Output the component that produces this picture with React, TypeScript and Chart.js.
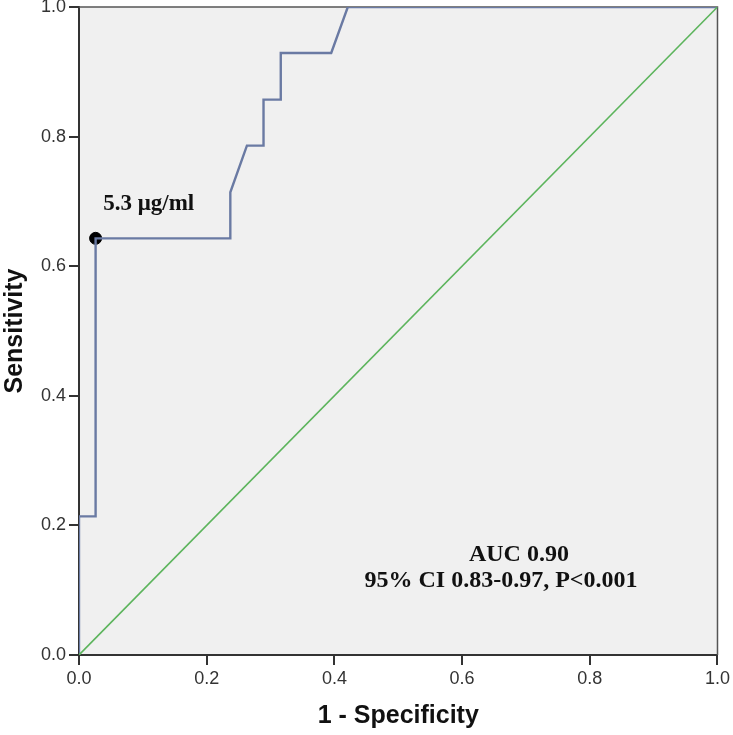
import React, { useEffect, useRef } from "react";
import { Chart, registerables } from "chart.js";

Chart.register(...registerables);

// ROC curve (1 - specificity, sensitivity)
const rocFpr = [0, 0, 0.026, 0.026, 0.237, 0.237, 0.263, 0.289, 0.289, 0.316, 0.316, 0.395, 0.421, 1];
const rocSens = [0, 0.214, 0.214, 0.643, 0.643, 0.714, 0.786, 0.786, 0.857, 0.857, 0.929, 0.929, 1, 1];
const refLine = [0, 1];
const cutoffPoint = { fpr: 0.026, sens: 0.643, label: "5.3 μg/ml" };
const aucLines = ["AUC 0.90", "95% CI 0.83-0.97, P<0.001"];
const tickValues = [0, 0.2, 0.4, 0.6, 0.8, 1.0];

const annotationPlugin = {
  id: "annot",
  beforeDatasetsDraw(chart: any) {
    const { ctx, chartArea } = chart;
    ctx.save();
    ctx.strokeStyle = "#555";
    ctx.lineWidth = 1.5;
    ctx.beginPath();
    ctx.moveTo(chartArea.left, chartArea.top);
    ctx.lineTo(chartArea.right, chartArea.top);
    ctx.lineTo(chartArea.right, chartArea.bottom);
    ctx.stroke();
    ctx.restore();
  },
  afterDatasetsDraw(chart: any) {
    const { ctx, scales } = chart;
    const x = scales.x;
    const y = scales.y;
    ctx.save();
    ctx.fillStyle = "#111";
    ctx.font = "bold 23px 'Liberation Serif', 'Times New Roman', serif";
    ctx.textBaseline = "alphabetic";
    ctx.textAlign = "left";
    ctx.fillText(cutoffPoint.label, x.getPixelForValue(0.038), y.getPixelForValue(0.686));
    ctx.font = "bold 24px 'Liberation Serif', 'Times New Roman', serif";
    ctx.textAlign = "center";
    ctx.fillText(aucLines[0], x.getPixelForValue(0.689), y.getPixelForValue(0.145));
    ctx.fillText(aucLines[1], x.getPixelForValue(0.661), y.getPixelForValue(0.105));
    ctx.restore();
  },
};

const bgPlugin = {
  id: "bg",
  beforeDraw(chart: any) {
    const { ctx, chartArea } = chart;
    ctx.save();
    ctx.fillStyle = "#ffffff";
    ctx.fillRect(0, 0, chart.width, chart.height);
    ctx.fillStyle = "#f0f0f0";
    ctx.fillRect(chartArea.left, chartArea.top, chartArea.right - chartArea.left, chartArea.bottom - chartArea.top);
    ctx.restore();
  },
};

export default function App() {
  const ref = useRef<HTMLCanvasElement | null>(null);
  useEffect(() => {
    if (!ref.current) return;
    const tickFont = { family: "Arial, 'Liberation Sans', sans-serif", size: 18 };
    const titleFont = { family: "Arial, 'Liberation Sans', sans-serif", size: 25, weight: "bold" as const };
    const chart = new Chart(ref.current, {
      type: "scatter",
      data: {
        datasets: [
          {
            data: refLine.map((v) => ({ x: v, y: v })),
            showLine: true,
            borderColor: "#5cb45c",
            borderWidth: 1.6,
            pointRadius: 0,
          },
          {
            data: rocFpr.map((v, i) => ({ x: v, y: rocSens[i] })),
            showLine: true,
            borderColor: "#6a7aa3",
            borderWidth: 2.4,
            pointRadius: 0,
          },
          {
            data: [{ x: cutoffPoint.fpr, y: cutoffPoint.sens }],
            pointRadius: 6,
            pointBackgroundColor: "#000",
            pointBorderColor: "#000",
          },
        ],
      },
      options: {
        animation: false,
        responsive: false,
        maintainAspectRatio: false,
        layout: { padding: { top: 0, right: 15, left: 0, bottom: 0 } },
        plugins: { legend: { display: false }, tooltip: { enabled: false } },
        scales: {
          x: {
            type: "linear",
            min: 0,
            max: 1,
            afterBuildTicks: (s: any) => {
              s.ticks = tickValues.map((v) => ({ value: v }));
            },
            afterFit: (s: any) => {
              s.height = 80;
            },
            ticks: { callback: (v: any) => Number(v).toFixed(1), color: "#333", font: tickFont, padding: 3 },
            grid: { display: true, drawOnChartArea: false, drawTicks: true, tickLength: 10, color: "#333", lineWidth: 2 },
            border: { display: true, color: "#333", width: 2 },
            title: { display: true, text: "1 - Specificity", color: "#111", font: titleFont, padding: { top: 8 } },
          },
          y: {
            type: "linear",
            min: 0,
            max: 1,
            afterBuildTicks: (s: any) => {
              s.ticks = tickValues.map((v) => ({ value: v }));
            },
            afterFit: (s: any) => {
              s.width = 79;
              s.paddingTop = 6;
            },
            ticks: { callback: (v: any) => Number(v).toFixed(1), color: "#333", font: tickFont, padding: 3 },
            grid: { display: true, drawOnChartArea: false, drawTicks: true, tickLength: 10, color: "#333", lineWidth: 2 },
            border: { display: true, color: "#333", width: 2 },
            title: { display: true, text: "Sensitivity", color: "#111", font: titleFont, padding: { top: 0, bottom: 0 } },
          },
        },
      },
      plugins: [bgPlugin, annotationPlugin],
    });
    return () => chart.destroy();
  }, []);
  return (
    <div style={{ position: "fixed", left: 0, top: 0, width: 733, height: 735, background: "#fff" }}>
      <canvas ref={ref} width={733} height={735} style={{ display: "block", width: 733, height: 735 }} />
    </div>
  );
}
